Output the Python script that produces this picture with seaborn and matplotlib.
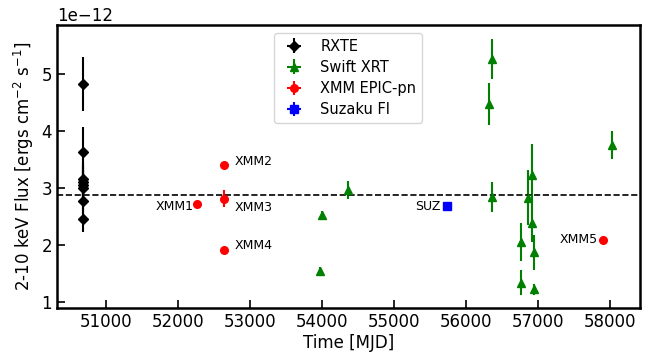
import numpy as np
import pandas as pd
import matplotlib
matplotlib.use("Agg")
import matplotlib.pyplot as plt
import seaborn as sns

# RXTE
rxte_t = [50685, 50685, 50685, 50685, 50685, 50685, 50685, 50685]
rxte_f = [4.82, 3.63, 3.15, 3.10, 3.05, 3.00, 2.78, 2.46]
rxte_e = [0.47, 0.44, 0.30, 0.28, 0.26, 0.25, 0.24, 0.23]

# Swift XRT
swift_t = [53972, 54008, 54365, 56365, 56319, 56365, 56861, 56926, 56920, 56772, 56948, 56772, 56948, 58037]
swift_f = [1.55, 2.52, 2.97, 5.26, 4.48, 2.84, 2.83, 3.23, 2.39, 2.05, 1.87, 1.34, 1.22, 3.75]
swift_e = [0.07, 0.08, 0.16, 0.35, 0.37, 0.26, 0.48, 0.55, 0.33, 0.34, 0.31, 0.22, 0.10, 0.25]

# XMM EPIC-pn
xmm_t = [52260, 52639, 52639, 52639, 57907]
xmm_f = [2.72, 3.40, 2.81, 1.91, 2.09]
xmm_e = [0.03, 0.06, 0.15, 0.03, 0.03]
xmm_lab = ["XMM1", "XMM2", "XMM3", "XMM4", "XMM5"]

# Suzaku FI
suz_t = [55746]
suz_f = [2.68]
suz_e = [0.03]

mean_flux = 2.88
scale = 1e-12

sns.set_style("white")
plt.rcParams['font.family'] = ['DejaVu Sans']
for k in ['text.color', 'axes.labelcolor', 'xtick.color', 'ytick.color']:
    plt.rcParams[k] = 'black'

fig = plt.figure(figsize=(6.59, 3.56), dpi=100)
ax = fig.add_axes([0.0865, 0.135, 0.971 - 0.0865, 0.9298 - 0.135])

def eb(t, f, e, fmt, color, label, ms):
    ax.errorbar(np.array(t), np.array(f) * scale, yerr=np.array(e) * scale,
                xerr=np.zeros(len(t)), fmt=fmt, color=color, ecolor=color,
                ms=ms, lw=1.5, elinewidth=1.5, label=label, capsize=0)

eb(rxte_t, rxte_f, rxte_e, 'D', 'black', 'RXTE', 5.5)
eb(swift_t, swift_f, swift_e, '^', 'green', 'Swift XRT', 6)
eb(xmm_t, xmm_f, xmm_e, 'o', 'red', 'XMM EPIC-pn', 5.5)
eb(suz_t, suz_f, suz_e, 's', 'blue', 'Suzaku FI', 5.5)

ax.axhline(mean_flux * scale, color='black', ls='--', lw=1.2)

offsets = [(-2, -2, 'right'), (8, 3, 'left'), (8, -6, 'left'), (8, 3, 'left'), (-4, 0, 'right')]
for t, f, lab, (dx, dy, ha) in zip(xmm_t, xmm_f, xmm_lab, offsets):
    ax.annotate(lab, (t, f * scale), xytext=(dx, dy), textcoords='offset points',
                ha=ha, va='center', fontsize=9, color='black')
ax.annotate("SUZ", (suz_t[0], suz_f[0] * scale), xytext=(-5, 0), textcoords='offset points',
            ha='right', va='center', fontsize=9, color='black')

ax.set_xlim(50320, 58420)
ax.set_ylim(0.895e-12, 5.86e-12)
ax.set_xticks([51000, 52000, 53000, 54000, 55000, 56000, 57000, 58000])
ax.set_yticks(np.array([1, 2, 3, 4, 5]) * scale)
ax.tick_params(direction='in', length=6, width=1.2, labelsize=12, left=True, bottom=True)
for s in ax.spines.values():
    s.set_linewidth(1.8)
    s.set_color('black')
ax.yaxis.get_offset_text().set_fontsize(12)

ax.set_xlabel("Time [MJD]", fontsize=12, labelpad=2)
ax.set_ylabel("2-10 keV Flux [ergs cm$^{-2}$ s$^{-1}$]", fontsize=12, labelpad=4)

ax.legend(loc='upper center', bbox_to_anchor=(0.499, 0.998), fontsize=10.5,
          frameon=True, handlelength=2, borderpad=0.4, labelspacing=0.42,
          edgecolor='#cccccc', fancybox=True)

fig.savefig("out.png", dpi=100)
